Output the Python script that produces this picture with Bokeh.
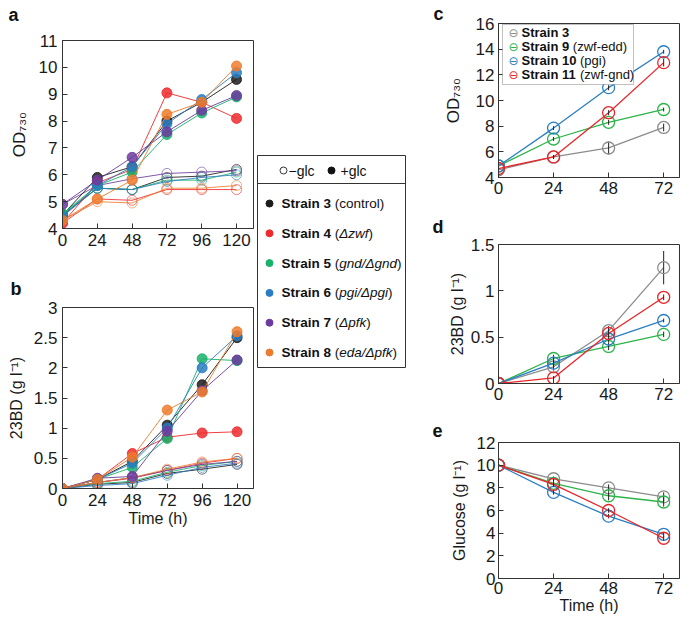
from bokeh.plotting import figure
from bokeh.layouts import row, column
from bokeh.models import Label, BoxAnnotation, Range1d, FixedTicker
from bokeh.embed import file_html
from bokeh.resources import INLINE
from bokeh.core.properties import value

FONT = "Liberation Sans"

# ---------------- data: panels a & b ----------------
hours_ab = [0, 24, 48, 72, 96, 120]
strain_names_ab = ["Strain 3", "Strain 4", "Strain 5", "Strain 6", "Strain 7", "Strain 8"]
strain_notes_ab = ["control", "\u0394zwf", "gnd/\u0394gnd", "pgi/\u0394pgi", "\u0394pfk", "eda/\u0394pfk"]
colors_ab = ["#1c1c1c", "#ee2a2e", "#17b26a", "#2a7dc2", "#6c3b9e", "#ee7b2c"]

od_plus_glc = [
    [4.5, 5.9, 6.3, 8.0, 8.7, 9.55],
    [4.2, 5.7, 6.2, 9.05, 8.7, 8.1],
    [4.55, 5.6, 6.1, 7.5, 8.3, 8.9],
    [4.45, 5.6, 6.3, 7.9, 8.8, 9.8],
    [4.9, 5.8, 6.65, 7.6, 8.4, 8.95],
    [4.3, 5.1, 5.8, 8.25, 8.7, 10.05],
]
od_minus_glc = [
    [4.5, 5.5, 5.45, 5.9, 5.95, 6.2],
    [4.2, 5.1, 5.05, 5.45, 5.45, 5.45],
    [4.55, 5.5, 5.45, 5.8, 5.8, 6.1],
    [4.45, 5.5, 5.45, 5.75, 5.9, 6.0],
    [4.9, 5.6, 5.85, 6.05, 6.1, 6.15],
    [4.3, 5.0, 4.95, 5.5, 5.5, 5.6],
]
bd_plus_glc = [
    [0, 0.15, 0.45, 1.05, 1.72, 2.5],
    [0, 0.15, 0.58, 0.85, 0.92, 0.94],
    [0, 0.15, 0.35, 0.83, 2.15, 2.12],
    [0, 0.15, 0.42, 1.0, 2.0, 2.53],
    [0, 0.17, 0.2, 0.95, 1.62, 2.13],
    [0, 0.15, 0.52, 1.3, 1.6, 2.6],
]
bd_minus_glc = [
    [0, 0.07, 0.1, 0.25, 0.32, 0.4],
    [0, 0.1, 0.17, 0.3, 0.42, 0.5],
    [0, 0.08, 0.12, 0.27, 0.38, 0.45],
    [0, 0.05, 0.08, 0.22, 0.35, 0.42],
    [0, 0.1, 0.18, 0.3, 0.4, 0.45],
    [0, 0.1, 0.18, 0.32, 0.44, 0.5],
]
a_yticks = [4, 5, 6, 7, 8, 9, 10, 11]
b_yticks = [0, 0.5, 1, 1.5, 2, 2.5, 3]
b_ytick_labels = ["0", "0.5", "1", "1.5", "2", "2.5", "3"]

# ---------------- data: panels c, d, e ----------------
hours_cde = [0, 24, 48, 72]
strain_names_cde = ["Strain 3", "Strain 9", "Strain 10", "Strain 11"]
strain_notes_cde = ["", "zwf-edd", "pgi", "zwf-gnd"]
colors_cde = ["#8c8c8c", "#2db34a", "#2a7fc4", "#e8262a"]

od_cde = [
    [4.6, 5.6, 6.3, 7.9],
    [4.9, 7.0, 8.3, 9.3],
    [4.9, 7.85, 11.0, 13.8],
    [4.7, 5.6, 9.05, 12.95],
]
od_cde_err = [
    [0.15, 0.15, 0.5, 0.3],
    [0.1, 0.15, 0.2, 0.15],
    [0.1, 0.15, 0.2, 0.15],
    [0.1, 0.15, 0.2, 0.3],
]
bd_cde = [
    [0, 0.18, 0.57, 1.25],
    [0, 0.27, 0.4, 0.53],
    [0, 0.22, 0.48, 0.68],
    [0, 0.06, 0.54, 0.93],
]
bd_cde_err = [
    [0.01, 0.04, 0.05, 0.18],
    [0.01, 0.04, 0.04, 0.03],
    [0.01, 0.04, 0.04, 0.02],
    [0.01, 0.02, 0.04, 0.03],
]
glucose_cde = [
    [10.0, 8.8, 8.0, 7.2],
    [10.0, 8.4, 7.3, 6.75],
    [10.0, 7.6, 5.5, 3.9],
    [10.0, 8.3, 6.0, 3.55],
]
glucose_cde_err = [
    [0.1, 0.2, 0.3, 0.4],
    [0.1, 0.3, 0.4, 0.4],
    [0.1, 0.2, 0.2, 0.2],
    [0.1, 0.2, 0.2, 0.2],
]
c_yticks = [4, 6, 8, 10, 12, 14, 16]
d_yticks = [0, 0.5, 1, 1.5]
d_ytick_labels = ["0", "0.5", "1", "1.5"]
e_yticks = [0, 2, 4, 6, 8, 10, 12]

# ---------------- text width helper (Arial/Liberation metrics) ----------------
REG = {' ': 278, '(': 333, ')': 333, '-': 333, '/': 278, 'a': 556, 'c': 500, 'd': 556,
       'e': 556, 'f': 278, 'g': 556, 'i': 222, 'k': 500, 'l': 222, 'n': 556, 'o': 556,
       'p': 556, 'r': 333, 't': 278, 'w': 722, 'z': 500, '\u0394': 668, '\u2212': 584}
BOLD = {' ': 278, 'S': 667, 't': 333, 'r': 389, 'a': 556, 'i': 278, 'n': 611}


def tw(s, size, table):
    return sum(table.get(ch, 556) for ch in s) * size / 1000.0


AX = "#333333"


def make_fig(w, h, left, right, top, bottom, xr, yr):
    p = figure(width=w, height=h, x_range=Range1d(*xr), y_range=Range1d(*yr),
               output_backend="svg", toolbar_location=None,
               min_border_left=left, min_border_right=right,
               min_border_top=top, min_border_bottom=bottom)
    p.xgrid.visible = False
    p.ygrid.visible = False
    p.outline_line_color = AX
    p.outline_line_width = 1
    p.outline_line_alpha = 1
    p.background_fill_color = "white"
    p.border_fill_color = "white"
    return p


def style_axes(p, xticks, yticks, ylabel, xlabel=None, ylabels=None, tick_size="17px",
               label_size="17px", ylab_standoff=8, tick_standoff=5, xlab_standoff=1):
    for ax in p.axis:
        ax.major_tick_in = 5
        ax.major_tick_out = 0
        ax.minor_tick_line_color = None
        ax.axis_line_color = AX
        ax.major_tick_line_color = AX
        ax.major_label_text_font = FONT
        ax.major_label_text_font_size = tick_size
        ax.major_label_text_color = "#1a1a1a"
        ax.major_label_standoff = tick_standoff
        ax.axis_label_text_font = FONT
        ax.axis_label_text_font_style = "normal"
        ax.axis_label_text_font_size = label_size
        ax.axis_label_text_color = "#1a1a1a"
    p.xaxis.ticker = FixedTicker(ticks=xticks)
    p.yaxis.ticker = FixedTicker(ticks=yticks)
    if ylabels is not None:
        p.yaxis.major_label_overrides = {t: l for t, l in zip(yticks, ylabels)}
    p.yaxis.axis_label = ylabel
    p.yaxis.axis_label_standoff = ylab_standoff
    if xlabel:
        p.xaxis.axis_label = xlabel
        p.xaxis.axis_label_standoff = xlab_standoff


def letter(p, txt, offset, standoff=0, line_height=None):
    p.title.text = txt
    p.title.align = "left"
    p.title.offset = offset
    p.title.standoff = standoff
    p.title.vertical_align = "bottom"
    p.title.text_font = FONT
    p.title.text_font_style = "bold"
    p.title.text_font_size = "18px"
    p.title.text_color = "#111111"
    if line_height is not None:
        p.title.text_line_height = line_height


# ---------------- panel a ----------------
pa = make_fig(254, 258, 62, 1, 40, 30, (0, 131.7), (4, 11))
for i in range(6):
    c = colors_ab[i]
    pa.line(hours_ab, od_minus_glc[i], line_color=c, line_width=1, line_alpha=0.85)
    pa.scatter(hours_ab, od_minus_glc[i], size=10, marker="circle", fill_color=None,
               line_color=c, line_alpha=0.6, line_width=1)
for i in range(6):
    c = colors_ab[i]
    pa.line(hours_ab, od_plus_glc[i], line_color=c, line_width=1, line_alpha=0.9)
    pa.scatter(hours_ab, od_plus_glc[i], size=10, marker="circle", fill_color=c,
               fill_alpha=0.85, line_color=c, line_alpha=0.85)
style_axes(pa, hours_ab, a_yticks, "OD\u2087\u2083\u2080", ylab_standoff=7)
letter(pa, "a\n\u00a0", -54, standoff=0, line_height=0.8)

# ---------------- panel b ----------------
pb = make_fig(254, 280, 56, 1, 49, 50, (0, 131.3), (0, 3))
for i in range(6):
    c = colors_ab[i]
    pb.line(hours_ab, bd_minus_glc[i], line_color=c, line_width=1, line_alpha=0.85)
    pb.scatter(hours_ab, bd_minus_glc[i], size=10, marker="circle", fill_color=None,
               line_color=c, line_alpha=0.6, line_width=1)
for i in range(6):
    c = colors_ab[i]
    pb.line(hours_ab, bd_plus_glc[i], line_color=c, line_width=1, line_alpha=0.9)
    pb.scatter(hours_ab, bd_plus_glc[i], size=10, marker="circle", fill_color=c,
               fill_alpha=0.85, line_color=c, line_alpha=0.85)
style_axes(pb, hours_ab, b_yticks, "23BD (g l\u207b\u00b9)", xlabel="Time (h)",
           ylabels=b_ytick_labels, label_size="16px", ylab_standoff=6)
letter(pb, "b", -52, standoff=18)

# ---------------- middle legend ----------------
LW, LH = 148, 212
leg = make_fig(158, 370, 3, 7, 155, 3, (0, LW), (LH, 0))
leg.axis.visible = False
header_y, divider_y, row0, row_step = 15, 28, 48, 29.8
marker_x, text_x, fs = 12, 24, 13.5
leg.segment(x0=[0], y0=[divider_y], x1=[LW], y1=[divider_y], line_color=AX, line_width=1)
leg.scatter([26], [header_y], marker="circle", size=7, fill_color=None, line_color="#333333")
leg.text([31], [header_y], text=["\u2212glc"], text_font=value(FONT), text_font_size="14px",
         text_baseline="middle", text_color="#111111")
leg.scatter([74], [header_y], marker="circle", size=7, fill_color="#111111", line_color="#111111")
leg.text([83], [header_y], text=["+glc"], text_font=value(FONT), text_font_size="14px",
         text_baseline="middle", text_color="#111111")
for i, (name, note) in enumerate(zip(strain_names_ab, strain_notes_ab)):
    y = row0 + i * row_step
    leg.scatter([marker_x], [y], marker="circle", size=7, fill_color=colors_ab[i],
                line_color=colors_ab[i])
    kw = dict(text_font=value(FONT), text_font_size=f"{fs}px", text_baseline="middle",
              text_color="#111111")
    leg.text([text_x], [y], text=[name], text_font_style="bold", **kw)
    x = text_x + tw(name + " ", fs, BOLD)
    leg.text([x], [y], text=["("], **kw)
    x += tw("(", fs, REG)
    style = "normal" if note == "control" else "italic"
    leg.text([x], [y], text=[note], text_font_style=style, **kw)
    x += tw(note, fs, REG)
    leg.text([x], [y], text=[")"], **kw)


# ---------------- panels c, d, e ----------------
def draw_cde(p, vals, errs):
    for i in range(4):
        c = colors_cde[i]
        p.line(hours_cde, vals[i], line_color=c, line_width=1.3)
        lo = [v - e for v, e in zip(vals[i], errs[i])]
        hi = [v + e for v, e in zip(vals[i], errs[i])]
        p.segment(x0=hours_cde, y0=lo, x1=hours_cde, y1=hi, line_color="#222222", line_width=1)
        p.scatter(hours_cde, vals[i], marker="circle", size=12, fill_color=None,
                  line_color=c, line_width=1.3)


XR_CDE = (0, 78.9)
pc = make_fig(273, 203, 86, 6, 23, 26, XR_CDE, (4, 16))
draw_cde(pc, od_cde, od_cde_err)
style_axes(pc, hours_cde, c_yticks, "OD\u2087\u2083\u2080", tick_size="17px", label_size="17px",
           ylab_standoff=10, tick_standoff=4)
letter(pc, "c", -65)
# legend of panel c
FH = 154
pc.add_layout(BoxAnnotation(left=4, right=135, top=FH - 1, bottom=FH - 61,
                            left_units="screen", right_units="screen",
                            top_units="screen", bottom_units="screen",
                            fill_color="white", fill_alpha=1, line_color=AX, line_width=1))
for i, (name, note) in enumerate(zip(strain_names_cde, strain_notes_cde)):
    y = FH - (9 + 14 * i)
    pc.add_layout(Label(x=15, y=y, x_units="screen", y_units="screen", text="\u2296",
                        text_font="DejaVu Sans", text_font_size="12px", text_color=colors_cde[i],
                        text_align="center", text_baseline="middle"))
    pc.add_layout(Label(x=23, y=y, x_units="screen", y_units="screen", text=name,
                        text_font=FONT, text_font_style="bold", text_font_size="13px",
                        text_color="#111111", text_baseline="middle"))
    if note:
        xn = 23 + tw(name + " ", 13, BOLD)
        pc.add_layout(Label(x=xn, y=y, x_units="screen", y_units="screen", text="(" + note + ")",
                            text_font=FONT, text_font_size="13px",
                            text_color="#111111", text_baseline="middle"))

pd_ = make_fig(273, 206, 86, 6, 41, 26, XR_CDE, (0, 1.5))
draw_cde(pd_, bd_cde, bd_cde_err)
style_axes(pd_, hours_cde, d_yticks, "23BD (g l\u207b\u00b9)", ylabels=d_ytick_labels,
           tick_size="17px", label_size="16px", ylab_standoff=2, tick_standoff=4)
letter(pd_, "d", -66, standoff=16)

pe = make_fig(273, 211, 86, 6, 33, 42, XR_CDE, (0, 12))
draw_cde(pe, glucose_cde, glucose_cde_err)
style_axes(pe, hours_cde, e_yticks, "Glucose (g l\u207b\u00b9)", xlabel="Time (h)",
           tick_size="17px", label_size="16px", ylab_standoff=6, tick_standoff=3, xlab_standoff=0)
letter(pe, "e", -66, standoff=12)

layout = row(column(pa, pb), leg, column(pc, pd_, pe))
open("out.html", "w").write(file_html(layout, INLINE))
